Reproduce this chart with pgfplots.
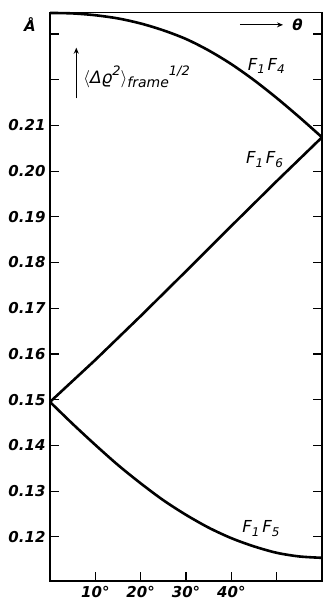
\documentclass[border=0pt]{standalone}
\usepackage{pgfplots}
\pgfplotsset{compat=1.18}
\usepackage{fontspec}
\setmainfont{DejaVu Sans}
\usetikzlibrary{arrows.meta}
\newcommand{\sub}[1]{\raisebox{-0.4ex}{\fontsize{12}{12}\selectfont #1}}
\newcommand{\sups}[1]{\raisebox{0.75ex}{\fontsize{12}{12}\selectfont #1}}
\newcommand{\subb}[1]{\raisebox{-0.45ex}{\fontsize{14}{14}\selectfont #1}}
\newcommand{\supb}[1]{\raisebox{0.8ex}{\fontsize{13}{13}\selectfont #1}}
\begin{document}
\begin{tikzpicture}
\begin{axis}[
  scale only axis,
  width=272pt, height=568.5pt,
  xmin=0, xmax=60,
  ymin=0.11033, ymax=0.2347,
  clip=false,
  axis line style={line width=1.2pt},
  tick align=inside,
  major tick length=9pt,
  tick style={line width=1.1pt, black},
  xtick pos=bottom,
  yticklabel pos=left,
  xtick={10,20,30,40,50},
  xticklabels={10°,20°,30°,40°,},
  ytick={0.12,0.13,0.14,0.15,0.16,0.17,0.18,0.19,0.20,0.21,0.22,0.23},
  yticklabels={0.12,0.13,0.14,0.15,0.16,0.17,0.18,0.19,0.20,0.21,,},
  ticklabel style={font=\fontsize{15}{15}\selectfont\bfseries\itshape},
  xticklabel style={yshift=-2pt},
  yticklabel style={xshift=-1pt},
  /pgf/number format/assume math mode=true,
]
% F1F4
\addplot[black, line width=2.6pt, smooth] coordinates {
(0,0.2346) (5,0.2345) (10,0.2341) (15,0.2334) (20,0.2323) (25,0.2308) (30,0.2289)
(35,0.2264) (40,0.2234) (45,0.2199) (50,0.2160) (55,0.2118) (60,0.2074)};
% F1F6
\addplot[black, line width=2.6pt] coordinates {
(0,0.1495) (10,0.1587) (20,0.1683) (30,0.1781) (40,0.1880) (50,0.1978) (60,0.2074)};
% F1F5
\addplot[black, line width=2.6pt, smooth] coordinates {
(0,0.1495) (5,0.1447) (10,0.1401) (15,0.1357) (20,0.1317) (25,0.1280) (30,0.1248)
(35,0.1220) (40,0.1197) (45,0.1179) (50,0.1165) (55,0.1157) (60,0.1154)};

\node[font=\fontsize{15}{15}\selectfont\bfseries\itshape] at (axis cs:-4.4,0.2320) {Å};
\draw[line width=0.9pt, -{Stealth[length=6pt,width=5pt]}] (axis cs:41.9,0.2320) -- (axis cs:51.4,0.2320);
\node[font=\fontsize{15}{15}\selectfont\bfseries\itshape] at (axis cs:54.6,0.2320) {θ};
\draw[line width=0.9pt, -{Stealth[length=6pt,width=5pt]}] (axis cs:5.8,0.2159) -- (axis cs:5.8,0.2270);
\node[anchor=base west, inner sep=0pt, font=\fontsize{17}{17}\selectfont\itshape] at (axis cs:7.3,0.2192)
  {$\langle$Δϱ\supb{2}$\rangle$\subb{frame}\supb{1/2}};
\node[anchor=base west, inner sep=0pt, font=\fontsize{16.5}{16.5}\selectfont\itshape] at (axis cs:43.6,0.2221) {F\sub{1}\,F\sub{4}};
\node[anchor=base west, inner sep=0pt, font=\fontsize{16.5}{16.5}\selectfont\itshape] at (axis cs:43.2,0.2016) {F\sub{1}\,F\sub{6}};
\node[anchor=base west, inner sep=0pt, font=\fontsize{16.5}{16.5}\selectfont\itshape] at (axis cs:42.4,0.1209) {F\sub{1}\,F\sub{5}};
\end{axis}
\pgfresetboundingbox
\path[use as bounding box] ([shift={(-50pt,-24pt)}]current axis.south west) rectangle ([shift={(1pt,12.5pt)}]current axis.north east);
\end{tikzpicture}
\end{document}
